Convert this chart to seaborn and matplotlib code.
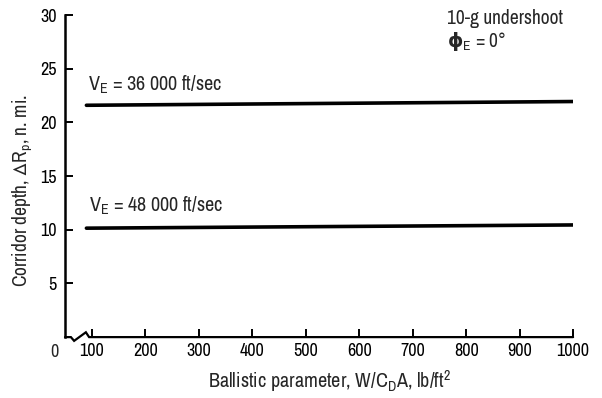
import matplotlib
matplotlib.use("Agg")
import matplotlib.pyplot as plt
import seaborn as sns
import pandas as pd

# Corridor depth vs ballistic parameter, 10-g undershoot boundary
ballistic = [90, 1000]
depth_36000 = [21.6, 21.95]
depth_48000 = [10.15, 10.45]
series_names = ["36 000", "48 000"]
x_ticks = [100, 200, 300, 400, 500, 600, 700, 800, 900, 1000]
y_ticks = [5, 10, 15, 20, 25, 30]

df = pd.concat([
    pd.DataFrame({"W": ballistic, "dR": depth_36000, "VE": series_names[0]}),
    pd.DataFrame({"W": ballistic, "dR": depth_48000, "VE": series_names[1]}),
])

sns.set_style("white")
FONT = ["Archivo Narrow", "DejaVu Sans"]
plt.rcParams["font.family"] = FONT
plt.rcParams["mathtext.fontset"] = "custom"
plt.rcParams["mathtext.rm"] = "Archivo Narrow"
plt.rcParams["mathtext.it"] = "Archivo Narrow"
plt.rcParams["mathtext.bf"] = "DejaVu Sans:bold"
plt.rcParams["mathtext.fallback"] = "stixsans"

fig = plt.figure(figsize=(6.02, 3.98), dpi=100)
ax = fig.add_axes([0.108, 0.153, 0.844, 0.809])

sns.lineplot(data=df, x="W", y="dR", hue="VE", palette=["black", "black"],
             linewidth=2.6, legend=False, ax=ax)

ax.set_xlim(50, 1000)
ax.set_ylim(0, 30)

for s in ["top", "right", "bottom"]:
    ax.spines[s].set_visible(False)
ax.spines["left"].set_linewidth(1.8)
ax.spines["left"].set_color("black")

# broken x axis: short stub, zigzag, then the axis proper
ax.plot([50, 61, 67, 89, 95, 1000], [0, 0, -0.35, 0.45, 0, 0],
        color="black", lw=1.6, clip_on=False, solid_joinstyle="miter")
ax.plot([1000, 1000], [0, 0.5], color="black", lw=1.4, clip_on=False)

ax.set_xticks(x_ticks)
ax.set_yticks(y_ticks)
ax.tick_params(axis="both", direction="in", length=6, width=1.4,
               colors="black", labelsize=13, pad=6,
               bottom=True, left=True)
ax.tick_params(axis="x", pad=4)
ax.text(-0.02, -0.045, "0", transform=ax.transAxes, fontsize=13,
        ha="center", va="center")
ax.set_xlabel("Ballistic parameter, W/C$_{\\mathrm{D}}$A, lb/ft$^{2}$",
              fontsize=14.5)
ax.xaxis.set_label_coords(0.52, -0.137)
ax.xaxis.label.set_va("center")
ax.set_ylabel("Corridor depth, $\\Delta$R$_{\\mathrm{p}}$, n. mi.",
              fontsize=14)
ax.yaxis.set_label_coords(-0.085, 0.456)
ax.yaxis.label.set_va("center")

ax.text(93, 23.0, "V$_{\\mathrm{E}}$ = 36 000 ft/sec", fontsize=14.5,
        ha="left", va="baseline")
ax.text(95, 11.65, "V$_{\\mathrm{E}}$ = 48 000 ft/sec", fontsize=14.5,
        ha="left", va="baseline")

ax.text(764, 29.2, "10-g undershoot", fontsize=14, ha="left", va="baseline")
ax.text(764, 27.0, "$\\mathbf{ϕ}_{\\mathrm{E}}$ = 0°", fontsize=14,
        ha="left", va="baseline")

fig.savefig("out.png", dpi=100)
